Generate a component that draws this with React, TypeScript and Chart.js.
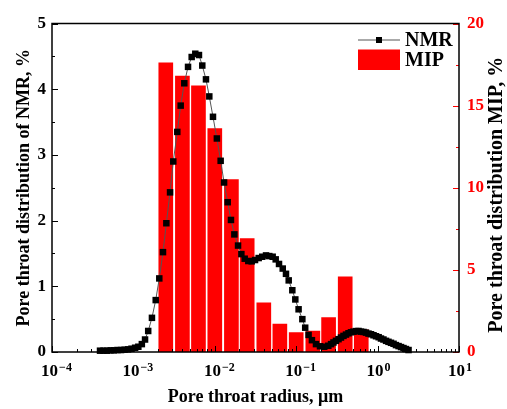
import { useEffect, useRef } from 'react';
import { Chart, registerables } from 'chart.js';

Chart.register(...registerables);

// NMR pore throat distribution (radius in μm, value in %)
const nmrRadius = [
  0.000389, 0.000429, 0.000474, 0.000524, 0.000578, 0.000638, 0.000705, 0.000778, 0.000859, 0.000948,
  0.00105, 0.00115, 0.00127, 0.00139, 0.00152, 0.00169, 0.00188, 0.00208, 0.00231, 0.00254,
  0.00282, 0.00309, 0.00346, 0.00381, 0.00422, 0.00469, 0.0052, 0.00576, 0.00639, 0.00702,
  0.00779, 0.00856, 0.0095, 0.0106, 0.0118, 0.013, 0.0144, 0.0158, 0.0174, 0.0193,
  0.0212, 0.0233, 0.0258, 0.0284, 0.0312, 0.0346, 0.0383, 0.0426, 0.0467, 0.0514,
  0.056, 0.0615, 0.0683, 0.0749, 0.0809, 0.0896, 0.0975, 0.107, 0.119, 0.129,
  0.142, 0.156, 0.175, 0.196, 0.221, 0.248,
  0.268, 0.287, 0.308, 0.331, 0.355, 0.381, 0.409, 0.439, 0.471, 0.506,
  0.543, 0.583, 0.625, 0.671, 0.72, 0.773, 0.83, 0.891, 0.956, 1.03,
  1.1, 1.18, 1.27, 1.36, 1.46, 1.57, 1.68, 1.81, 1.94, 2.08,
  2.23, 2.4,
];
const nmrValue = [
  0.02, 0.02, 0.02, 0.025, 0.025, 0.03, 0.03, 0.035, 0.04, 0.05,
  0.065, 0.08, 0.12, 0.19, 0.32, 0.52, 0.79, 1.12, 1.52, 1.96,
  2.43, 2.9, 3.35, 3.75, 4.09, 4.34, 4.49, 4.54, 4.52, 4.36,
  4.15, 3.89, 3.58, 3.25, 2.91, 2.58, 2.28, 2.01, 1.79, 1.62,
  1.49, 1.42, 1.385, 1.38, 1.4, 1.43, 1.45, 1.47, 1.46, 1.45,
  1.41, 1.34, 1.27, 1.19, 1.09, 0.94, 0.8, 0.65, 0.5, 0.37,
  0.26, 0.18, 0.12, 0.087, 0.08, 0.095,
  0.12, 0.145, 0.17, 0.195, 0.22, 0.245, 0.265, 0.285, 0.3, 0.31,
  0.318, 0.32, 0.31, 0.305, 0.295, 0.28, 0.27, 0.255, 0.24, 0.225,
  0.205, 0.19, 0.17, 0.155, 0.14, 0.125, 0.105, 0.09, 0.075, 0.06,
  0.045, 0.03,
];

// MIP pore throat distribution (radius in μm, value in %)
const mipRadius = [0.0025, 0.004, 0.0063, 0.01, 0.016, 0.025, 0.04, 0.063, 0.1, 0.16, 0.25, 0.4, 0.63];
const mipValue = [17.6, 16.8, 16.2, 13.6, 10.5, 6.9, 3.0, 1.7, 1.18, 1.28, 2.09, 4.58, 1.35];

// Tick labels
const xDecades = [-4, -3, -2, -1, 0, 1];
const leftTicks = [0, 1, 2, 3, 4, 5];
const rightTicks = [0, 5, 10, 15, 20];

const FONT = '"Liberation Serif", "Times New Roman", serif';

const decor = {
  id: 'decor',
  afterDraw(chart: any) {
    const { ctx, chartArea: a, scales } = chart;
    const xs = scales.x;
    const ys = scales.y;
    const y2 = scales.y2;
    ctx.save();

    // ticks
    ctx.strokeStyle = '#000';
    ctx.lineWidth = 1;
    ctx.beginPath();
    for (const e of xDecades) {
      const px = Math.round(xs.getPixelForValue(Math.pow(10, e))) + 0.5;
      ctx.moveTo(px, a.bottom);
      ctx.lineTo(px, a.bottom - 6);
      if (e < 1) {
        for (let m = 2; m <= 9; m++) {
          const mp = Math.round(xs.getPixelForValue(m * Math.pow(10, e))) + 0.5;
          ctx.moveTo(mp, a.bottom);
          ctx.lineTo(mp, a.bottom - 3);
        }
      }
    }
    for (const v of leftTicks) {
      const py = Math.round(ys.getPixelForValue(v)) + 0.5;
      ctx.moveTo(a.left, py);
      ctx.lineTo(a.left + 6, py);
      if (v < 5) {
        const my = Math.round(ys.getPixelForValue(v + 0.5)) + 0.5;
        ctx.moveTo(a.left, my);
        ctx.lineTo(a.left + 3, my);
      }
    }
    ctx.stroke();

    ctx.strokeStyle = '#ff0000';
    ctx.beginPath();
    for (const v of rightTicks) {
      const py = Math.round(y2.getPixelForValue(v)) + 0.5;
      ctx.moveTo(a.right, py);
      ctx.lineTo(a.right - 6, py);
      if (v < 20) {
        const my = Math.round(y2.getPixelForValue(v + 2.5)) + 0.5;
        ctx.moveTo(a.right, my);
        ctx.lineTo(a.right - 3, my);
      }
    }
    ctx.stroke();

    // frame
    ctx.strokeStyle = '#000';
    ctx.lineWidth = 1.5;
    ctx.strokeRect(a.left, a.top, a.right - a.left, a.bottom - a.top);

    // left tick labels
    ctx.fillStyle = '#000';
    ctx.font = `bold 17px ${FONT}`;
    ctx.textAlign = 'right';
    ctx.textBaseline = 'middle';
    for (const v of leftTicks) {
      ctx.fillText(String(v), a.left - 6, ys.getPixelForValue(v));
    }
    // right tick labels
    ctx.fillStyle = '#ff0000';
    ctx.textAlign = 'left';
    for (const v of rightTicks) {
      ctx.fillText(String(v), a.right + 8, y2.getPixelForValue(v));
    }

    // x tick labels 10^n
    ctx.fillStyle = '#000';
    ctx.textBaseline = 'alphabetic';
    ctx.textAlign = 'left';
    for (const e of xDecades) {
      const px = xs.getPixelForValue(Math.pow(10, e));
      const base = '10';
      const exp = e < 0 ? '\u2212' + Math.abs(e) : String(e);
      ctx.font = `bold 17px ${FONT}`;
      const w1 = ctx.measureText(base).width;
      ctx.font = `bold 12px ${FONT}`;
      const w2 = ctx.measureText(exp).width;
      const total = w1 + 1 + w2;
      const off = e < 0 ? 4.5 : 1;
      const start = px + off - total / 2;
      ctx.font = `bold 17px ${FONT}`;
      ctx.fillText(base, start, a.bottom + 23.5);
      ctx.font = `bold 12px ${FONT}`;
      ctx.fillText(exp, start + w1 + 1, a.bottom + 18.5);
    }

    // axis titles
    ctx.font = `bold 18px ${FONT}`;
    ctx.textAlign = 'center';
    ctx.fillStyle = '#000';
    ctx.fillText('Pore throat radius, \u03bcm', (a.left + a.right) / 2, a.bottom + 50);

    const cy = (a.top + a.bottom) / 2;
    ctx.textBaseline = 'middle';
    ctx.save();
    ctx.translate(24, cy);
    ctx.rotate(-Math.PI / 2);
    ctx.fillText('Pore throat distribution of NMR, %', 0, 0);
    ctx.restore();
    ctx.font = `bold 20px ${FONT}`;
    ctx.save();
    ctx.translate(497, cy + 7);
    ctx.rotate(-Math.PI / 2);
    ctx.fillText('Pore throat distribution MIP, %', 0, 0);
    ctx.restore();

    // legend
    const lx = a.right - 101;
    ctx.strokeStyle = '#555';
    ctx.lineWidth = 1;
    ctx.beginPath();
    ctx.moveTo(lx, a.top + 16.5);
    ctx.lineTo(lx + 42, a.top + 16.5);
    ctx.stroke();
    ctx.fillStyle = '#000';
    ctx.fillRect(lx + 18, a.top + 13.5, 6, 6);
    ctx.fillStyle = '#ff0000';
    ctx.fillRect(lx, a.top + 26, 42, 20.5);
    ctx.fillStyle = '#000';
    ctx.font = `bold 20px ${FONT}`;
    ctx.textAlign = 'left';
    ctx.textBaseline = 'alphabetic';
    ctx.fillText('NMR', lx + 47, a.top + 22.5);
    ctx.fillText('MIP', lx + 47, a.top + 42.2);

    ctx.restore();
  },
};

export default function App() {
  const ref = useRef<HTMLCanvasElement | null>(null);

  useEffect(() => {
    document.body.style.margin = '0';
    const canvas = ref.current;
    if (!canvas) return;
    const chart = new Chart(canvas, {
      type: 'bar',
      data: {
        datasets: [
          {
            type: 'line',
            label: 'NMR',
            data: nmrRadius.map((r, i) => ({ x: r, y: nmrValue[i] })),
            xAxisID: 'x',
            yAxisID: 'y',
            borderColor: '#555',
            borderWidth: 1,
            pointStyle: 'rect',
            pointRadius: 4.6,
            pointBackgroundColor: '#000',
            pointBorderColor: '#000',
            pointBorderWidth: 0,
            clip: false,
            order: 0,
          } as any,
          {
            type: 'bar',
            label: 'MIP',
            data: mipRadius.map((r, i) => ({ x: r, y: mipValue[i] })),
            xAxisID: 'x',
            yAxisID: 'y2',
            backgroundColor: '#ff0000',
            borderWidth: 0,
            barThickness: 14,
            order: 1,
          } as any,
        ],
      },
      options: {
        responsive: false,
        animation: false,
        devicePixelRatio: 1,
        layout: { padding: { left: 52, right: 48, top: 23.5, bottom: 57 } },
        plugins: { legend: { display: false }, tooltip: { enabled: false } },
        scales: {
          x: { type: 'logarithmic', min: 1e-4, max: 10, display: false, offset: false },
          y: { type: 'linear', min: 0, max: 5, display: false, position: 'left' },
          y2: { type: 'linear', min: 0, max: 20, display: false, position: 'right' },
        },
      },
      plugins: [decor],
    });
    return () => chart.destroy();
  }, []);

  return (
    <div style={{ position: 'absolute', left: 0, top: 0, width: 507, height: 409, background: '#fff' }}>
      <canvas ref={ref} width={507} height={409} style={{ display: 'block' }} />
    </div>
  );
}
